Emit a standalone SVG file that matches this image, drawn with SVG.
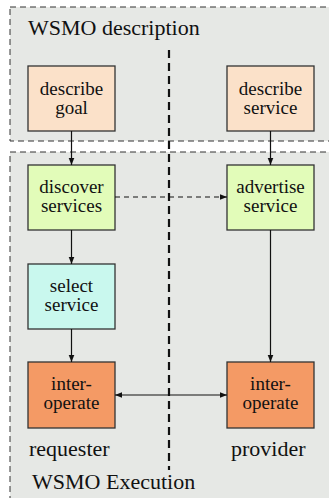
<svg xmlns="http://www.w3.org/2000/svg" width="329" height="498" viewBox="0 0 329 498">
<style>
.region{fill:#e6e8e5;stroke:#333;stroke-width:1;stroke-dasharray:6 4}
.box{stroke:#333;stroke-width:1.3}
.t{font-family:'Liberation Serif','Times New Roman',serif;font-size:19px;fill:#111;text-anchor:middle}
.lbl{font-family:'Liberation Serif','Times New Roman',serif;font-size:22px;fill:#111}
.c{stroke:#111;stroke-width:1.2;fill:none}
.desc{fill:#fbe1c9}
.green{fill:#e2fcb9}
.cyan{fill:#c9f8ee}
.orange{fill:#f49a65}
</style>
<defs>
<marker id="ah" viewBox="0 0 10 10" refX="10" refY="5" markerWidth="7" markerHeight="7" markerUnits="userSpaceOnUse" orient="auto-start-reverse">
<path d="M0,1 L10,5 L0,9 z" fill="#111"/>
</marker>
</defs>
<rect width="329" height="498" fill="#fff"/>
<g id="region-description">
<rect class="region" x="10" y="7" width="340" height="134"/>
<text class="lbl" x="28" y="35">WSMO description</text>
</g>
<g id="region-execution">
<rect class="region" x="10" y="152" width="340" height="360"/>
<text class="lbl" x="32" y="489">WSMO Execution</text>
<text class="lbl" x="29" y="456">requester</text>
<text class="lbl" x="231" y="456">provider</text>
</g>
<line id="divider" x1="169" y1="50" x2="169" y2="470" stroke="#111" stroke-width="2.2" stroke-dasharray="8 5"/>
<g id="describe-goal">
<rect class="box desc" x="28" y="66" width="87" height="65"/>
<text class="t" x="71.5" y="94.5">describe</text>
<text class="t" x="71.5" y="113.5">goal</text>
</g>
<g id="describe-service">
<rect class="box desc" x="227" y="66" width="87" height="65"/>
<text class="t" x="270.5" y="94.5">describe</text>
<text class="t" x="270.5" y="113.5">service</text>
</g>
<g id="discover-services">
<rect class="box green" x="28" y="165" width="87" height="65"/>
<text class="t" x="71.5" y="193">discover</text>
<text class="t" x="71.5" y="212">services</text>
</g>
<g id="advertise-service">
<rect class="box green" x="227" y="165" width="87" height="65"/>
<text class="t" x="270.5" y="193">advertise</text>
<text class="t" x="270.5" y="212">service</text>
</g>
<g id="select-service">
<rect class="box cyan" x="28" y="264" width="87" height="65"/>
<text class="t" x="71.5" y="292">select</text>
<text class="t" x="71.5" y="311">service</text>
</g>
<g id="interoperate-requester">
<rect class="box orange" x="28" y="362" width="87" height="66"/>
<text class="t" x="71.5" y="390">inter-</text>
<text class="t" x="71.5" y="409">operate</text>
</g>
<g id="interoperate-provider">
<rect class="box orange" x="227" y="362" width="87" height="66"/>
<text class="t" x="270.5" y="390">inter-</text>
<text class="t" x="270.5" y="409">operate</text>
</g>
<g id="connectors">
<line class="c" x1="71.5" y1="131" x2="71.5" y2="165" marker-end="url(#ah)"/>
<line class="c" x1="270.5" y1="131" x2="270.5" y2="165" marker-end="url(#ah)"/>
<line class="c" x1="71.5" y1="230" x2="71.5" y2="264" marker-end="url(#ah)"/>
<line class="c" x1="71.5" y1="329" x2="71.5" y2="362" marker-end="url(#ah)"/>
<line class="c" x1="270.5" y1="230" x2="270.5" y2="362" marker-end="url(#ah)"/>
<line class="c" x1="115" y1="197" x2="227" y2="197" stroke-dasharray="5 4" marker-end="url(#ah)"/>
<line class="c" x1="115" y1="395" x2="227" y2="395" marker-start="url(#ah)" marker-end="url(#ah)"/>
</g>
</svg>
